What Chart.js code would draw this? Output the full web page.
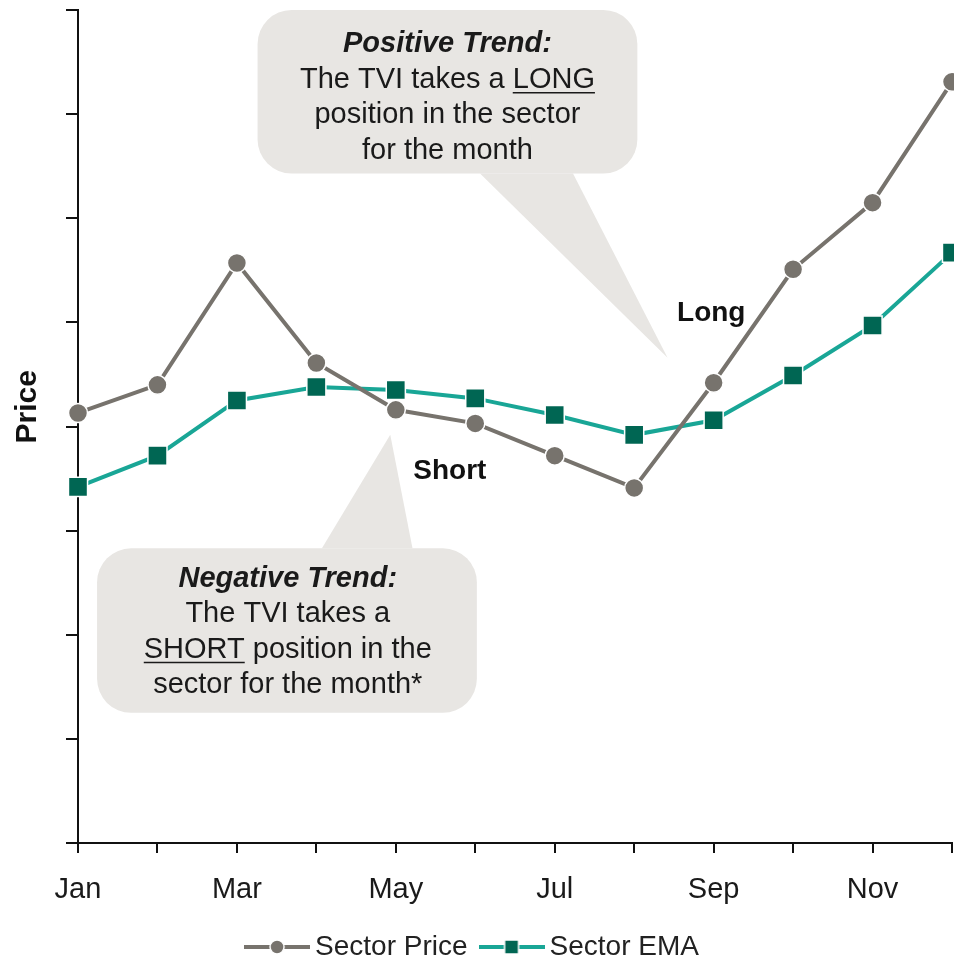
<!DOCTYPE html>
<html>
<head>
<meta charset="utf-8">
<script src="https://cdn.jsdelivr.net/npm/chart.js@4.4.1/dist/chart.umd.min.js"></script>
<style>
  html, body { margin: 0; padding: 0; background: #fff; }
  #wrap { width: 954px; height: 963px; position: relative; }
</style>
</head>
<body>
<div id="wrap"><canvas id="tviChart"></canvas></div>
<script>
// --- data ---
const months = ['Jan', 'Feb', 'Mar', 'Apr', 'May', 'Jun', 'Jul', 'Aug', 'Sep', 'Oct', 'Nov', 'Dec'];
const sectorPrice = [4.13, 4.40, 5.57, 4.61, 4.16, 4.03, 3.72, 3.41, 4.42, 5.51, 6.15, 7.31];
const sectorEma = [3.42, 3.72, 4.25, 4.38, 4.35, 4.27, 4.11, 3.92, 4.06, 4.49, 4.97, 5.67];
const seriesNames = ['Sector Price', 'Sector EMA'];
const yMin = 0, yMax = 8, yStep = 1;

// callout boxes, in category index / price units
const callouts = [
    {
        box: [2.26, 8.0, 7.04, 6.43],          // left, top, right, bottom
        tail: [[5.06, 6.43], [6.23, 6.43], [7.42, 4.66]],
        textAt: [4.65, 7.67],
        lines: [
            [{ t: 'Positive Trend:', bold: true, italic: true }],
            [{ t: 'The TVI takes a ' }, { t: 'LONG', u: true }],
            [{ t: 'position in the sector' }],
            [{ t: 'for the month' }]
        ]
    },
    {
        box: [0.24, 2.83, 5.02, 1.25],
        tail: [[3.07, 2.83], [4.21, 2.83], [3.93, 3.92]],
        textAt: [2.64, 2.54],
        lines: [
            [{ t: 'Negative Trend:', bold: true, italic: true }],
            [{ t: 'The TVI takes a' }],
            [{ t: 'SHORT', u: true }, { t: ' position in the' }],
            [{ t: 'sector for the month*' }]
        ]
    }
];
const pointLabels = [
    { text: 'Long', at: [7.97, 5.09] },
    { text: 'Short', at: [4.68, 3.57] }
];
const axisTitle = { text: 'Price', at: 4.19 };

const FONT = '"Liberation Sans", Arial, sans-serif';
const GRAY = '#77736d';
const TEAL = '#19a696';
const DARK_GREEN = '#006653';
const CALLOUT_FILL = '#e8e6e3';

// legend icons: line - marker - line
function legendIcon(lineColor, markerColor, square) {
    const c = document.createElement('canvas');
    c.width = 66; c.height = 20;
    const g = c.getContext('2d');
    g.strokeStyle = lineColor;
    g.lineWidth = 4;
    g.beginPath(); g.moveTo(0, 10); g.lineTo(66, 10); g.stroke();
    g.fillStyle = markerColor;
    g.strokeStyle = '#fff';
    g.lineWidth = 1.5;
    if (square) {
        g.fillRect(26, 3, 14, 14); g.strokeRect(26, 3, 14, 14);
    } else {
        g.beginPath(); g.arc(33, 10, 7, 0, Math.PI * 2); g.fill(); g.stroke();
    }
    return c;
}
const legendIcons = [legendIcon(GRAY, GRAY, false), legendIcon(TEAL, DARK_GREEN, true)];

const calloutPlugin = {
    id: 'callouts',
    beforeDatasetsDraw(chart) {
        const { ctx, scales: { x, y } } = chart;
        ctx.save();
        callouts.forEach(c => {
            const [l, t, r, b] = c.box;
            const x0 = x.getPixelForValue(l), x1 = x.getPixelForValue(r);
            const y0 = y.getPixelForValue(t), y1 = y.getPixelForValue(b);
            ctx.fillStyle = CALLOUT_FILL;
            ctx.beginPath();
            ctx.roundRect(x0, y0, x1 - x0, y1 - y0, 34);
            ctx.fill();
            ctx.beginPath();
            c.tail.forEach((p, i) => {
                const px = x.getPixelForValue(p[0]), py = y.getPixelForValue(p[1]);
                if (i === 0) ctx.moveTo(px, py); else ctx.lineTo(px, py);
            });
            ctx.closePath();
            ctx.fill();

            // text, centred line by line
            const cx = x.getPixelForValue(c.textAt[0]);
            let cy = y.getPixelForValue(c.textAt[1]);
            ctx.textBaseline = 'middle';
            ctx.textAlign = 'left';
            ctx.fillStyle = '#1a1a1a';
            c.lines.forEach(line => {
                const fontOf = s => (s.italic ? 'italic ' : '') + (s.bold ? 'bold ' : '') + '29px ' + FONT;
                let total = 0;
                line.forEach(s => { ctx.font = fontOf(s); total += ctx.measureText(s.t).width; });
                let px = cx - total / 2;
                line.forEach(s => {
                    ctx.font = fontOf(s);
                    const w = ctx.measureText(s.t).width;
                    ctx.fillText(s.t, px, cy);
                    if (s.u) {
                        ctx.strokeStyle = '#1a1a1a';
                        ctx.lineWidth = 1.5;
                        ctx.beginPath();
                        ctx.moveTo(px, cy + 13);
                        ctx.lineTo(px + w, cy + 13);
                        ctx.stroke();
                    }
                    px += w;
                });
                cy += 35.5;
            });
        });

        ctx.font = 'bold 28px ' + FONT;
        ctx.textAlign = 'center';
        ctx.fillStyle = '#111';
        pointLabels.forEach(p => {
            ctx.fillText(p.text, x.getPixelForValue(p.at[0]), y.getPixelForValue(p.at[1]));
        });

        // y axis title
        ctx.translate(28, y.getPixelForValue(axisTitle.at));
        ctx.rotate(-Math.PI / 2);
        ctx.font = 'bold 30px ' + FONT;
        ctx.fillText(axisTitle.text, 0, 0);
        ctx.restore();
    }
};

const ctx = document.getElementById('tviChart').getContext('2d');
new Chart(ctx, {
    type: 'line',
    data: {
        labels: months,
        datasets: [{
            label: seriesNames[0],
            data: sectorPrice,
            borderColor: GRAY,
            borderWidth: 4,
            pointStyle: 'circle',
            pointRadius: 9.5,
            pointBackgroundColor: GRAY,
            pointBorderColor: '#fff',
            pointBorderWidth: 1.5,
            tension: 0,
            clip: false
        }, {
            label: seriesNames[1],
            data: sectorEma,
            borderColor: TEAL,
            borderWidth: 4,
            pointStyle: 'rect',
            pointRadius: 13.5,
            pointBackgroundColor: DARK_GREEN,
            pointBorderColor: '#fff',
            pointBorderWidth: 1.5,
            tension: 0,
            clip: false
        }]
    },
    options: {
        responsive: true,
        maintainAspectRatio: false,
        animation: false,
        layout: { autoPadding: false, padding: { top: 10, right: 2, left: 0, bottom: -8 } },
        plugins: {
            tooltip: { enabled: false },
            legend: {
                position: 'bottom',
                labels: {
                    usePointStyle: true,
                    pointStyleWidth: 48,
                    padding: 20,
                    color: '#222',
                    font: { family: FONT, size: 28 },
                    generateLabels: chart => chart.data.datasets.map((ds, i) => ({
                        text: ds.label,
                        pointStyle: legendIcons[i],
                        fillStyle: ds.borderColor,
                        strokeStyle: ds.borderColor,
                        lineWidth: 0,
                        hidden: false,
                        datasetIndex: i,
                        fontColor: '#222'
                    }))
                }
            }
        },
        scales: {
            x: {
                offset: false,
                grid: { drawOnChartArea: false, drawTicks: true, tickLength: 10, color: '#111', lineWidth: 2 },
                border: { display: true, color: '#111', width: 2 },
                ticks: {
                    autoSkip: false,
                    maxRotation: 0,
                    padding: 20,
                    color: '#1a1a1a',
                    font: { family: FONT, size: 29 },
                    callback: (v, i) => (i % 2 === 0 ? months[i] : '')
                },
                afterFit: scale => {
                    scale.height = 70;
                    scale.paddingLeft = 0;
                    scale.paddingRight = 0;
                }
            },
            y: {
                min: yMin,
                max: yMax,
                grid: { drawOnChartArea: false, drawTicks: true, tickLength: 12, color: '#111', lineWidth: 2 },
                border: { display: true, color: '#111', width: 2 },
                ticks: { display: false, stepSize: yStep },
                afterFit: scale => { scale.width = 78; }
            }
        }
    },
    plugins: [calloutPlugin]
});
</script>
</body>
</html>
